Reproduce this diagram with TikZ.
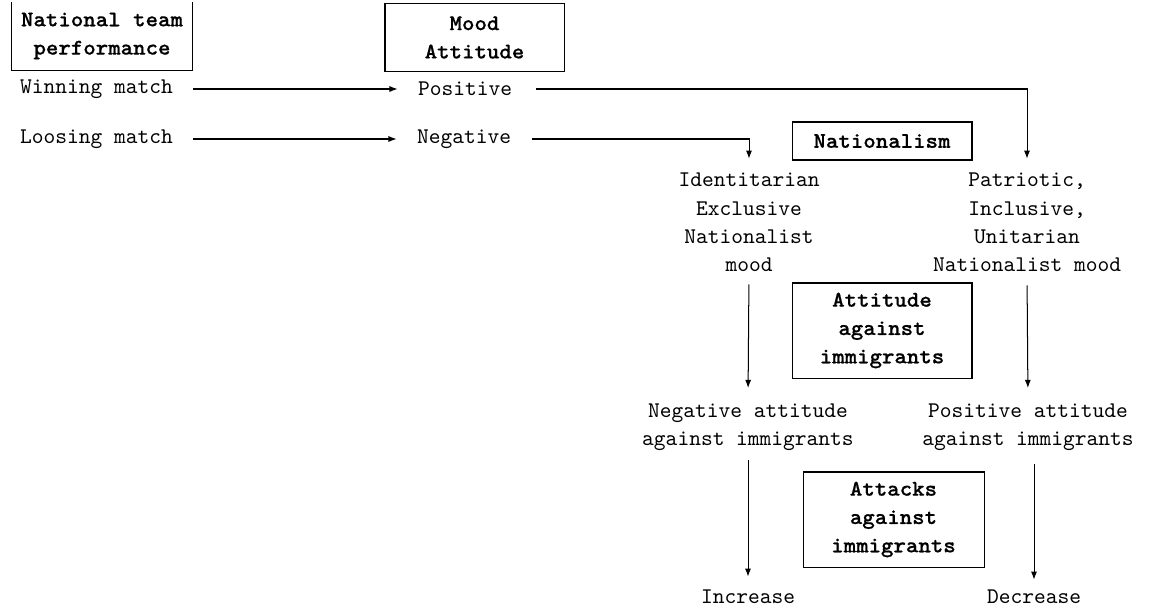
\documentclass[tikz,border=0pt]{standalone}
\usepackage{fontspec}
\newfontfamily\bttfont{lmmonolt10-bold.otf}[FakeStretch=1.06, FakeBold=0.6]
\usetikzlibrary{arrows.meta}
\begin{document}
\begin{tikzpicture}[x=0.4468pt,y=-0.4468pt,
  txt/.style={font=\ttfamily\fontsize{10}{12.65}\selectfont, align=center, inner sep=0pt},
  btxt/.style={font=\bttfont\fontsize{10}{12.65}\selectfont, align=center, inner sep=0pt},
  hbox/.style={draw, line width=0.45pt, btxt, minimum width=80.42pt},
  frame/.style={line width=0.45pt},
  conn/.style={line width=0.45pt, -{Latex[length=3.6pt,width=2.7pt]}}]
\useasboundingbox (0,0) rectangle (1149,611);
% header boxes
\node[btxt, minimum width=80.42pt, minimum height=30.4pt] (nt) at (102,36) {National team\\performance};
\draw[frame] (nt.north west) -- (nt.south west) -- (nt.south east) -- (nt.north east);
\node[hbox, minimum width=79.98pt, minimum height=29.94pt] (mood) at (474.5,37.5) {Mood\\Attitude};
\node[hbox, minimum height=16.98pt] (nat) at (882,141) {Nationalism};
\node[hbox, minimum height=42.45pt] (att) at (882,330.5) {Attitude\\against\\immigrants};
\node[hbox, minimum width=80.87pt, minimum height=42.45pt] (atk) at (893.5,519.5) {Attacks\\against\\immigrants};
% text nodes
\node[txt] (win) at (96.5,89) {Winning match};
\node[txt] (los) at (96.5,139) {Loosing match};
\node[txt] (pos) at (465,89) {Positive};
\node[txt] (neg) at (464,139) {Negative};
\node[txt] (ide) at (749,222.5) {Identitarian\\Exclusive\\Nationalist\\mood};
\node[txt] (pat) at (1027,222.5) {Patriotic,\\Inclusive,\\Unitarian\\Nationalist mood};
\node[txt] (na) at (748,427) {Negative attitude\\against immigrants};
\node[txt] (pa) at (1028,427) {Positive attitude\\against immigrants};
\node[txt] (inc) at (748,597) {Increase};
\node[txt] (dec) at (1034,597) {Decrease};
% connectors
\draw[conn, shorten <=8.94pt, shorten >=8.94pt] (win.east) -- (pos.west);
\draw[conn, shorten <=8.94pt, shorten >=8.94pt] (los.east) -- (neg.west);
\draw[conn, shorten <=10.72pt, shorten >=6.26pt] (pos.east) -| (pat.north);
\draw[conn, shorten <=9.38pt, shorten >=6.26pt] (neg.east) -| (ide.north);
\draw[conn, shorten <=5.36pt, shorten >=6.70pt] (ide.south) -- (na.north);
\draw[conn, shorten <=5.81pt, shorten >=6.70pt] (pat.south) -- (pa.north);
\draw[conn, shorten <=4.24pt, shorten >=5.81pt] (na.south) -- (inc.north);
\draw[conn, shorten <=5.59pt, shorten >=4.47pt] (pa.south -| dec.north) -- (dec.north);
\end{tikzpicture}
\end{document}
